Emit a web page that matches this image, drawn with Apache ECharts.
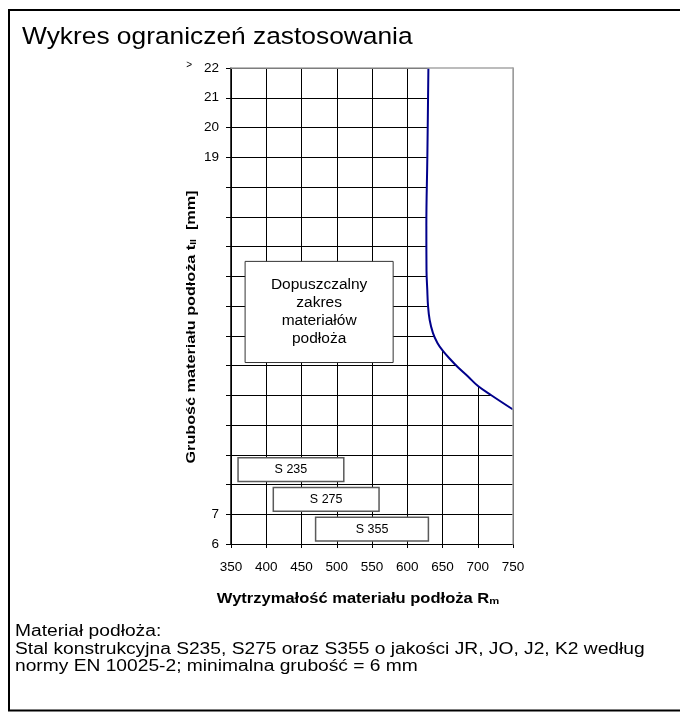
<!DOCTYPE html>
<html>
<head>
<meta charset="utf-8">
<script src="https://cdn.jsdelivr.net/npm/echarts@6/dist/echarts.min.js"></script>
<style>
  html, body { margin: 0; padding: 0; background: #fff; }
  #chart { width: 680px; height: 713px; }
</style>
</head>
<body>
<div id="chart"></div>
<script>
// Limit curve: tensile strength Rm versus substrate thickness t
const limitRm = [630, 628.5, 627.1, 627.3, 628.4, 629.4, 631.8, 636.5, 642.8, 650.6, 660.6, 671.9, 686.2, 700.4, 719.2, 750];
const limitT  = [22, 19, 16.7, 15.2, 14.55, 14.03, 13.53, 13.09, 12.76, 12.49, 12.22, 11.94, 11.63, 11.31, 11.0, 10.52];

// Steel grades: tensile strength range and thickness row of each bar
const gradeNames = ['S 235', 'S 275', 'S 355'];
const gradeRmMin = [360, 410, 470];
const gradeRmMax = [510, 560, 630];
const gradeRow   = [8, 7, 6];

// Permissible-range note
const regionText = 'Dopuszczalny\nzakres\nmateriałów\npodłoża';
const regionRm = [370, 580];
const regionT  = [12.1, 15.5];

// Axes
const xMin = 350, xMax = 750, xStep = 50;
const yMin = 6, yMax = 22, yStep = 1;
const yLabelValues = [6, 7, 19, 20, 21, 22];
const yLabelTexts  = ['6', '7', '19', '20', '21', '{gt|>}22'];

const FONT = '"Liberation Sans", Arial, sans-serif';

const chart = echarts.init(document.getElementById('chart'), null, { renderer: 'canvas' });

const option = {
  backgroundColor: '#fff',
  animation: false,
  textStyle: { fontFamily: FONT, color: '#000' },
  grid: { left: 231, right: 167, top: 68, bottom: 169, containLabel: false },
  xAxis: [{
    type: 'value', min: xMin, max: xMax, interval: xStep, position: 'bottom', z: 0,
    axisLine: { show: true, lineStyle: { color: '#000', width: 1 } },
    axisTick: { show: true, length: 4, lineStyle: { color: '#000' } },
    axisLabel: { color: '#000', fontSize: 13.5, fontFamily: FONT, margin: 16 },
    splitLine: { show: true, lineStyle: { color: '#000', width: 1 } }
  }, {
    type: 'value', min: xMin, max: xMax, interval: xStep, position: 'top', z: 10,
    axisLine: { show: true, onZero: false, lineStyle: { color: '#a6a6a6', width: 1.5 } },
    axisTick: { show: false }, axisLabel: { show: false }, splitLine: { show: false }
  }],
  yAxis: [{
    type: 'value', min: yMin, max: yMax, interval: yStep, position: 'left', z: 0,
    axisLine: { show: true, lineStyle: { color: '#000', width: 1.5 } },
    axisTick: { show: true, length: 5, lineStyle: { color: '#000' } },
    axisLabel: {
      color: '#000', fontSize: 13.5, fontFamily: FONT, margin: 12,
      formatter: function (v) {
        const i = yLabelValues.indexOf(v);
        return i >= 0 ? yLabelTexts[i] : '';
      },
      rich: { gt: { fontSize: 10, fontFamily: FONT, color: '#000', verticalAlign: 'top', padding: [0, 12, 6, 0] } }
    },
    splitLine: { show: true, lineStyle: { color: '#000', width: 1 } }
  }, {
    type: 'value', min: yMin, max: yMax, interval: yStep, position: 'right', z: 10,
    axisLine: { show: true, onZero: false, lineStyle: { color: '#a6a6a6', width: 1.5 } },
    axisTick: { show: false }, axisLabel: { show: false }, splitLine: { show: false }
  }],
  graphic: [
    { type: 'rect', shape: { x: 9, y: 10, width: 700, height: 700.5 },
      style: { fill: 'none', stroke: '#000', lineWidth: 2 }, z: 20 },
    { type: 'text', x: 22, y: 37, scaleX: 1.075, z: 20,
      style: { text: 'Wykres ograniczeń zastosowania', font: '24.5px ' + FONT, fill: '#000', verticalAlign: 'middle' } },
    { type: 'text', x: 358, y: 598, scaleX: 1.18, z: 20,
      style: {
        text: '{b|Wytrzymałość materiału podłoża R}{s|m}',
        align: 'center', verticalAlign: 'middle',
        rich: {
          b: { fontSize: 14, fontWeight: 'bold', fontFamily: FONT, fill: '#000', lineHeight: 17, verticalAlign: 'bottom' },
          s: { fontSize: 9.5, fontWeight: 'bold', fontFamily: FONT, fill: '#000', lineHeight: 17, verticalAlign: 'bottom' }
        }
      } },
    { type: 'text', x: 190, y: 327, rotation: Math.PI / 2, scaleX: 1.2, z: 20,
      style: {
        text: '{b|Grubość materiału podłoża t}{s|II}{b|  [mm]}',
        align: 'center', verticalAlign: 'middle',
        rich: {
          b: { fontSize: 13.5, fontWeight: 'bold', fontFamily: FONT, fill: '#000', lineHeight: 16, verticalAlign: 'bottom' },
          s: { fontSize: 8.5, fontWeight: 'bold', fontFamily: FONT, fill: '#000', lineHeight: 16, verticalAlign: 'bottom' }
        }
      } },
    { type: 'text', x: 15, y: 623, scaleX: 1.2, z: 20,
      style: {
        text: 'Materiał podłoża:\nStal konstrukcyjna S235, S275 oraz S355 o jakości JR, JO, J2, K2 według\nnormy EN 10025-2; minimalna grubość = 6 mm',
        font: '16px ' + FONT, fill: '#000', lineHeight: 17.5, verticalAlign: 'top'
      } }
  ],
  series: [
    {
      // white area right of the limit curve hides the grid there
      name: 'mask', type: 'custom', z: 1, silent: true,
      data: [[xMax, yMax]],
      renderItem: function (params, api) {
        const pts = limitRm.map(function (r, i) { return api.coord([r, limitT[i]]); });
        pts.push(api.coord([xMax, yMax]));
        return { type: 'polygon', shape: { points: pts }, style: { fill: '#fff', stroke: '#fff', lineWidth: 1 } };
      }
    },
    {
      name: 'grades', type: 'custom', z: 3, silent: true,
      data: gradeNames.map(function (n, i) { return [gradeRmMin[i], gradeRmMax[i], gradeRow[i]]; }),
      renderItem: function (params, api) {
        const i = params.dataIndex;
        const p0 = api.coord([gradeRmMin[i], gradeRow[i] + 0.9]);
        const p1 = api.coord([gradeRmMax[i], gradeRow[i] + 0.1]);
        return {
          type: 'rect',
          shape: { x: p0[0], y: p0[1], width: p1[0] - p0[0], height: p1[1] - p0[1] },
          style: { fill: '#fff', stroke: '#5a5a5a', lineWidth: 1.5 },
          textContent: { style: { text: gradeNames[i], font: '12.5px ' + FONT, fill: '#000' } },
          textConfig: { position: 'inside' }
        };
      }
    },
    {
      name: 'region', type: 'custom', z: 3, silent: true,
      data: [[regionRm[0], regionT[1]]],
      renderItem: function (params, api) {
        const p0 = api.coord([regionRm[0], regionT[1]]);
        const p1 = api.coord([regionRm[1], regionT[0]]);
        return {
          type: 'rect',
          shape: { x: p0[0], y: p0[1], width: p1[0] - p0[0], height: p1[1] - p0[1] },
          style: { fill: '#fff', stroke: '#333', lineWidth: 1 },
          textContent: { style: { text: regionText, font: '15.5px ' + FONT, fill: '#000', lineHeight: 18, align: 'center' } },
          textConfig: { position: 'inside' }
        };
      }
    },
    {
      name: 'limit', type: 'line', z: 4,
      data: limitRm.map(function (r, i) { return [r, limitT[i]]; }),
      showSymbol: false, smooth: 0.4,
      lineStyle: { color: '#00008b', width: 2 }
    }
  ]
};

chart.setOption(option);
</script>
</body>
</html>
